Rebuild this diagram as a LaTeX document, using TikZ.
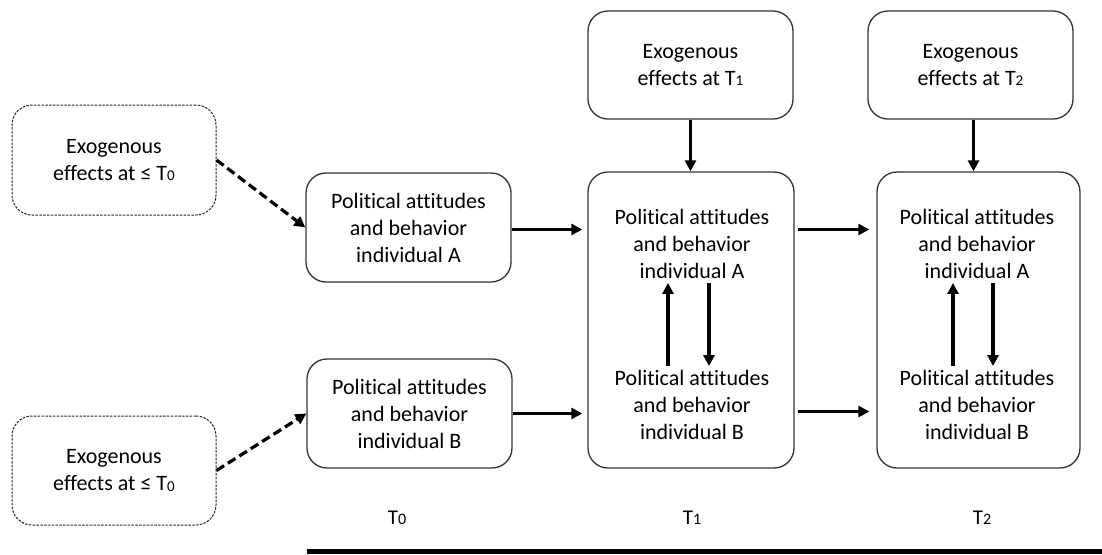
\documentclass[tikz,border=0pt]{standalone}
\usepackage{fontspec}
\setmainfont{Carlito}[Ligatures=NoCommon]
\usetikzlibrary{arrows.meta,calc}
\definecolor{boxgray}{HTML}{333333}
\newcommand\lowdig[1]{\raisebox{-0.8pt}{\fontsize{15pt}{15pt}\selectfont #1}}
\newcommand\lowdigb[1]{\raisebox{-0.5pt}{\fontsize{16pt}{16pt}\selectfont #1}}
\begin{document}
\begin{tikzpicture}[x=1pt,y=-1pt,
  box/.style={draw=boxgray, line width=1.3pt, rounded corners=20pt, align=center,
    font=\fontsize{22pt}{27pt}\selectfont, inner sep=0pt, text=black},
  dotbox/.style={box, draw=black!85, line width=1pt, dash pattern=on 2.5pt off 1.3pt},
  txt/.style={align=center, font=\fontsize{22pt}{27pt}\selectfont, inner sep=0pt, text=black},
  lbl/.style={font=\fontsize{21pt}{25pt}\selectfont, inner sep=0pt, text=black, anchor=base},
  arr/.style={line width=3.2pt, -{Triangle[length=11pt,width=11pt]}},
  darr/.style={arr, dash pattern=on 9pt off 4.5pt},
]
\useasboundingbox (0,0) rectangle (1102,554);

% left exogenous boxes
\node[dotbox, minimum width=204pt, minimum height=110pt] (E0a) at (114,160) {Exogenous\\effects at ≤ T\lowdig{0}};
\node[dotbox, minimum width=204pt, minimum height=109pt] (E0b) at (114,470.5) {Exogenous\\effects at ≤ T\lowdig{0}};

% T0 boxes
\node[box, minimum width=205pt, minimum height=109pt] (A0) at (408.5,227.5) {Political attitudes\\and behavior\\individual A};
\node[box, minimum width=205pt, minimum height=109pt] (B0) at (409.5,413.5) {Political attitudes\\and behavior\\individual B};

% top exogenous boxes
\node[box, minimum width=205pt, minimum height=108pt] (E1) at (690.5,65) {Exogenous\\effects at T\lowdig{1}};
\node[box, minimum width=205pt, minimum height=108pt] (E2) at (970.5,65) {Exogenous\\effects at T\lowdig{2}};

% big boxes
\node[box, minimum width=206pt, minimum height=296pt] (T1) at (691,320) {};
\node[box, minimum width=203pt, minimum height=296pt] (T2) at (978.5,320) {};

% texts in big boxes
\node[txt] (A1) at (692,244) {Political attitudes\\and behavior\\individual A};
\node[txt] (B1) at (692,405) {Political attitudes\\and behavior\\individual B};
\node[txt] (A2) at (977,244) {Political attitudes\\and behavior\\individual A};
\node[txt] (B2) at (977,405) {Political attitudes\\and behavior\\individual B};

% bottom labels
\node[lbl] (L0) at (397,524) {T\lowdigb{0}};
\node[lbl] (L1) at (692,524) {T\lowdigb{1}};
\node[lbl] (L2) at (982,524) {T\lowdigb{2}};

% bottom axis line
\fill[black] (307,549.3) rectangle (1102,554);

% dashed arrows
\draw[darr] (E0a.east) -- (A0.west);
\draw[darr] (E0b.east) -- (B0.west);

% horizontal arrows
\draw[arr, shorten >=5pt] ([yshift=-2pt]A0.east) -- ([yshift=-2pt]A0.east -| T1.west);
\draw[arr, shorten >=5pt] (B0.east) -- (B0.east -| T1.west);
\draw[arr, shorten <=3pt, shorten >=7pt] ([yshift=-2pt]T1.east |- A0.east) -- ([yshift=-2pt]T2.west |- A0.east);
\draw[arr, shorten <=3pt, shorten >=7pt] ([yshift=2pt]T1.east |- B0.east) -- ([yshift=2pt]T2.west |- B0.east);

% vertical arrows from exogenous
\draw[arr] (E1.south) -- (E1.south |- T1.north);
\draw[arr] ([xshift=3pt]E2.south) -- ([xshift=3pt]E2.south |- T2.north);

% inner arrows
\draw[arr] ([xshift=-24pt,yshift=4pt]B1.north) -- ([xshift=-24pt,yshift=-4pt]A1.south);
\draw[arr] ([xshift=17pt,yshift=-4pt]A1.south) -- ([xshift=17pt,yshift=4pt]B1.north);
\draw[arr] ([xshift=-24pt,yshift=4pt]B2.north) -- ([xshift=-24pt,yshift=-4pt]A2.south);
\draw[arr] ([xshift=16pt,yshift=-4pt]A2.south) -- ([xshift=16pt,yshift=4pt]B2.north);
\end{tikzpicture}
\end{document}
